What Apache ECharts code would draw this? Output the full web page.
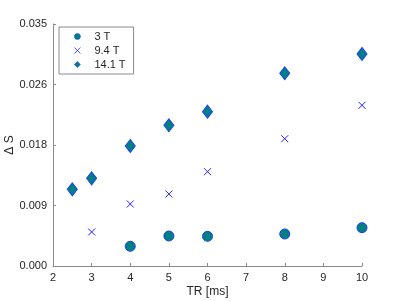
<!DOCTYPE html>
<html>
<head>
<meta charset="utf-8">
<script src="https://cdn.jsdelivr.net/npm/echarts@6/dist/echarts.min.js"></script>
<style>
  html, body { margin: 0; padding: 0; background: #fff; }
  #mainChart { width: 400px; height: 301px; }
</style>
</head>
<body>
<div id="mainChart"></div>
<script>
// values
var tr3 = [4, 5, 6, 8, 10];
var ds3 = [0.00285, 0.00434, 0.00429, 0.00463, 0.00554];

var tr94 = [3, 4, 5, 6, 8, 10];
var ds94 = [0.00492, 0.00897, 0.01041, 0.01364, 0.01841, 0.02324];

var tr141 = [2.5, 3, 4, 5, 6, 8, 10];
var ds141 = [0.01109, 0.01268, 0.01736, 0.02035, 0.02232, 0.02787, 0.03066];

var yTickLabels = ['0.000', '0.009', '0.018', '0.026', '0.035'];

function pairs(xs, ys) {
    return xs.map(function(x, i) { return [x, ys[i]]; });
}

var font = 'Liberation Sans';
var textColor = '#262626';
var axisColor = '#8a8a8a';
var crossPath = 'path://M0,0L10,10M10,0L0,10';

var myChart = echarts.init(document.getElementById('mainChart'));

myChart.setOption({
    animation: false,
    backgroundColor: '#fff',
    textStyle: { fontFamily: font },
    grid: {
        left: 53,
        top: 24,
        right: 38,
        bottom: 35,
        containLabel: false,
        outerBoundsMode: 'none'
    },
    legend: {
        orient: 'vertical',
        left: 59,
        top: 27,
        width: 70,
        padding: [4, 8, 4, 15],
        itemGap: 3,
        itemWidth: 6,
        itemHeight: 6,
        backgroundColor: '#fff',
        borderColor: '#8a8a8a',
        borderWidth: 1,
        borderRadius: 0,
        textStyle: { fontFamily: font, fontSize: 11, color: textColor, padding: [0, 0, 0, 9] },
        data: [
            { name: '3 T', itemStyle: { color: '#008080', borderColor: '#1a3cff', borderWidth: 0.6 } },
            { name: '9.4 T', icon: crossPath, itemStyle: { color: 'rgba(0,0,0,0)', borderColor: '#2020ff', borderWidth: 0.8 } },
            { name: '14.1 T', itemStyle: { color: '#008080', borderColor: '#1a3cff', borderWidth: 0.6 } }
        ]
    },
    xAxis: {
        type: 'value',
        min: 2,
        max: 10,
        interval: 1,
        name: 'TR [ms]',
        nameLocation: 'middle',
        nameGap: 20,
        nameMoveOverlap: false,
        nameTextStyle: { fontFamily: font, fontSize: 12, color: textColor },
        axisLine: { show: true, lineStyle: { color: axisColor, width: 1 } },
        axisTick: { show: true, inside: true, length: 3, lineStyle: { color: axisColor } },
        axisLabel: { fontFamily: font, fontSize: 11, color: textColor, margin: 6 },
        splitLine: { show: false }
    },
    yAxis: {
        type: 'value',
        min: 0,
        max: 0.035,
        interval: 0.00875,
        name: 'Δ S',
        nameLocation: 'middle',
        nameGap: 37,
        nameMoveOverlap: false,
        nameTextStyle: { fontFamily: font, fontSize: 12, color: textColor },
        axisLine: { show: true, lineStyle: { color: axisColor, width: 1 } },
        axisTick: { show: true, inside: true, length: 3, lineStyle: { color: axisColor } },
        axisLabel: {
            fontFamily: font, fontSize: 11, color: textColor, margin: 6,
            formatter: function(v) {
                var k = Math.round(v / 0.00875);
                return yTickLabels[k] !== undefined ? yTickLabels[k] : '';
            }
        },
        splitLine: { show: false }
    },
    series: [{
        name: '3 T',
        type: 'scatter',
        symbol: 'circle',
        symbolSize: 10,
        itemStyle: { color: '#008080', borderColor: '#1a3cff', borderWidth: 1, opacity: 1 },
        data: pairs(tr3, ds3)
    }, {
        name: '9.4 T',
        type: 'scatter',
        symbol: crossPath,
        symbolSize: 7,
        itemStyle: { color: 'rgba(0,0,0,0)', borderColor: '#2020ff', borderWidth: 1, opacity: 1 },
        data: pairs(tr94, ds94)
    }, {
        name: '14.1 T',
        type: 'scatter',
        symbol: 'diamond',
        symbolSize: [10, 13],
        itemStyle: { color: '#008080', borderColor: '#1a3cff', borderWidth: 1, opacity: 1 },
        data: pairs(tr141, ds141)
    }]
});
</script>
</body>
</html>
